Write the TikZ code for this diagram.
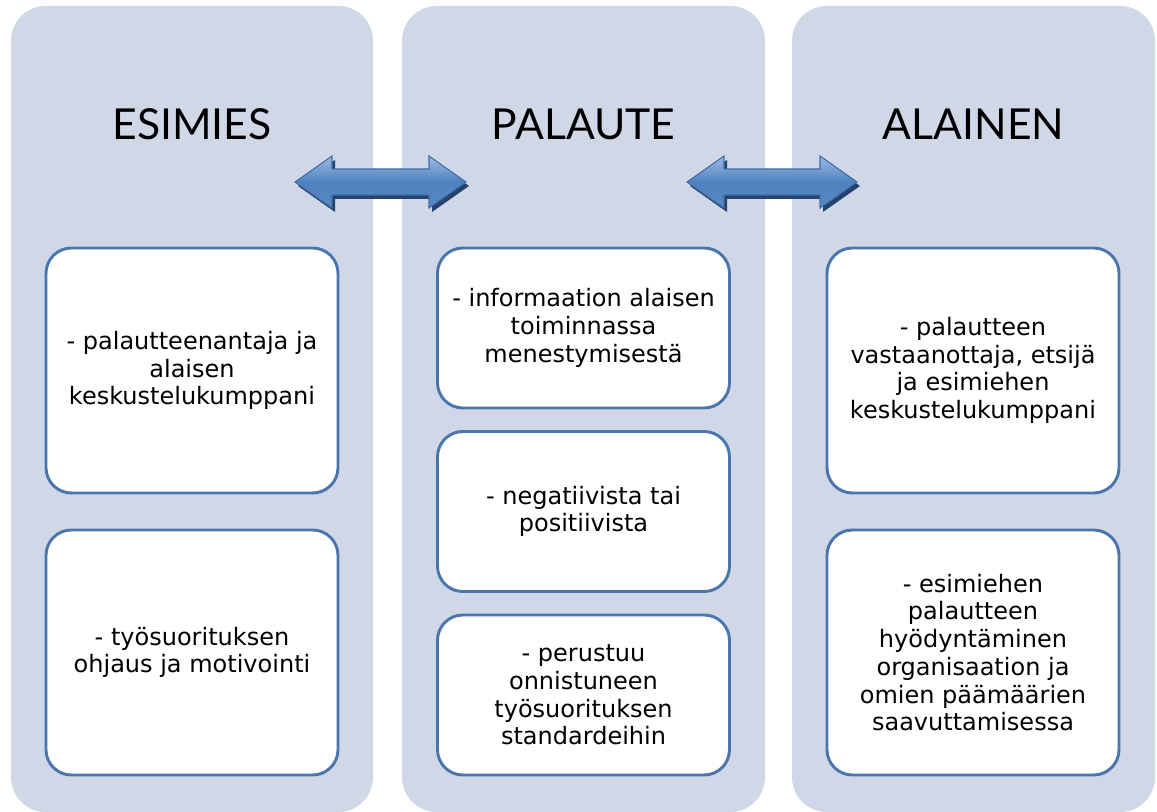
\documentclass[tikz,border=0pt]{standalone}
\usepackage{fontspec}
\setmainfont{DejaVu Sans}
\newfontfamily\titlefont{Lato}
\usetikzlibrary{calc}
\definecolor{colbg}{HTML}{D0D8E8}
\definecolor{boxline}{HTML}{4A76AD}
\definecolor{arrowtop}{HTML}{9DBBE3}
\definecolor{arrowmid}{HTML}{4F81BD}
\definecolor{arrowbot}{HTML}{5A8AC4}
\definecolor{arrowedge}{HTML}{3E6EAA}
\definecolor{arrowshade}{HTML}{26436E}
\tikzset{
	column/.style={fill=colbg, rounded corners=26pt},
	title/.style={font=\titlefont\fontsize{32}{36}\selectfont},
	item/.style={draw=boxline, line width=2.2pt, fill=white, rounded corners=19pt, align=center,
		font=\fontsize{18}{20.8}\selectfont, inner sep=0pt, minimum width=219pt},
	tall/.style={minimum height=183.75pt},
	short/.style={minimum height=120pt},
}
\def\blockarrow(#1)(#2)[#3]{\draw[#3] (#1) -- ($(#1)+(37,-26)$) -- ($(#1)+(37,-13)$) -- ($(#2)+(-37,-13)$) -- ($(#2)+(-37,-26)$) -- (#2) -- ($(#2)+(-37,26)$) -- ($(#2)+(-37,13)$) -- ($(#1)+(37,13)$) -- ($(#1)+(37,26)$) -- cycle;}

\begin{document}
\begin{tikzpicture}[x=0.75pt, y=-0.75pt]
			%%%%% START %%%%%
			\useasboundingbox (0, 0) rectangle (1157, 812);
			
			\fill[column] (11, 6) rectangle (373, 812);
			\fill[column] (402, 6) rectangle (765, 812);
			\fill[column] (792, 6) rectangle (1155, 812);
			
			\node[title] (esimies) at (192, 124) {ESIMIES};
			\node[title] (palaute) at (583.5, 124) {PALAUTE};
			\node[title] (alainen) at (973.5, 124) {ALAINEN};
			
			\node[item, tall] (e1) at (192, 370.5) {- palautteenantaja ja\\alaisen\\keskustelukumppani};
			\node[item, tall] (e2) at (192, 652.5) {- työsuorituksen\\ohjaus ja motivointi};
			
			\node[item, short] (p1) at (583.5, 328) {- informaation alaisen\\toiminnassa\\menestymisestä};
			\node[item, short] (p2) at (583.5, 511.5) {- negatiivista tai\\positiivista};
			\node[item, short] (p3) at (583.5, 695) {- perustuu\\onnistuneen\\työsuorituksen\\standardeihin};
			
			\node[item, tall] (a1) at (973, 370.5) {- palautteen\\vastaanottaja, etsijä\\ja esimiehen\\keskustelukumppani};
			\node[item, tall] (a2) at (973, 652.5) {- esimiehen\\palautteen\\hyödyntäminen\\organisaation ja\\omien päämäärien\\saavuttamisessa};
			
			% arrows between the columns
			\coordinate (l1) at (295, 182);
			\coordinate (r1) at (466, 182);
			\coordinate (l2) at (687, 182);
			\coordinate (r2) at (857, 182);
			\coordinate (l1s) at (298, 186);
			\coordinate (r1s) at (469, 186);
			\coordinate (l2s) at (690, 186);
			\coordinate (r2s) at (860, 186);
			
			\blockarrow(l1s)(r1s)[fill=arrowshade, draw=none]
			\blockarrow(l2s)(r2s)[fill=arrowshade, draw=none]
			\blockarrow(l1)(r1)[top color=arrowtop, bottom color=arrowbot, middle color=arrowmid, draw=arrowedge, line width=0.8pt, line join=miter]
			\blockarrow(l2)(r2)[top color=arrowtop, bottom color=arrowbot, middle color=arrowmid, draw=arrowedge, line width=0.8pt, line join=miter]
			
			%%%%% END %%%%%
\end{tikzpicture}
\end{document}
